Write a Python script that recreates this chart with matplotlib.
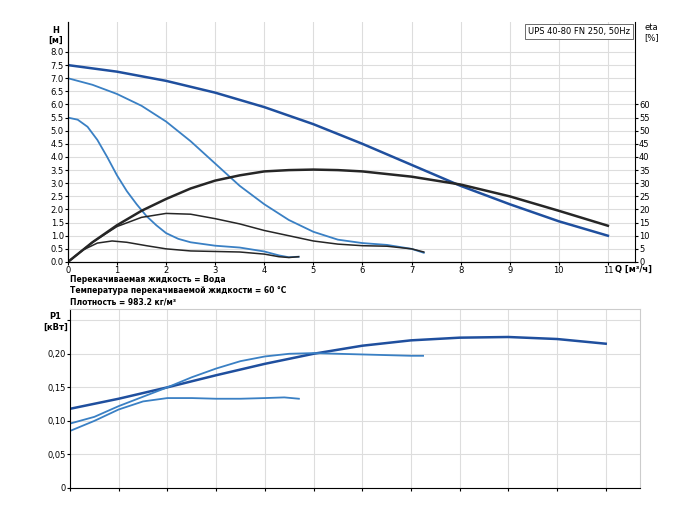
import matplotlib.pyplot as plt
import numpy as np

# head curves H [m]
q_h1 = [0, 1, 2, 3, 4, 5, 6, 7, 8, 9, 10, 11]
h1 = [7.5, 7.25, 6.9, 6.45, 5.9, 5.25, 4.5, 3.7, 2.9, 2.2, 1.55, 1.0]
q_h2 = [0, 0.5, 1, 1.5, 2, 2.5, 3, 3.5, 4, 4.5, 5, 5.5, 6, 6.5, 7, 7.25]
h2 = [7.0, 6.75, 6.4, 5.95, 5.35, 4.6, 3.75, 2.9, 2.2, 1.6, 1.15, 0.85, 0.72, 0.65, 0.5, 0.35]
q_h3 = [0, 0.2, 0.4, 0.6, 0.8, 1, 1.2, 1.4, 1.6, 1.8, 2, 2.25, 2.5, 3, 3.5, 4, 4.3, 4.5, 4.7]
h3 = [5.5, 5.42, 5.15, 4.65, 4.0, 3.3, 2.7, 2.2, 1.75, 1.4, 1.1, 0.88, 0.75, 0.62, 0.55, 0.4, 0.25, 0.18, 0.2]

# efficiency curves eta [%]
q_e1 = [0, 0.5, 1, 1.5, 2, 2.5, 3, 3.5, 4, 4.5, 5, 5.5, 6, 7, 8, 9, 10, 11]
e1 = [0, 7.5, 14, 19.5, 24, 28, 31, 33, 34.5, 35.0, 35.2, 35.0, 34.5, 32.5, 29.5, 25, 19.5, 13.8]
q_e2 = [0, 0.5, 1, 1.5, 2, 2.5, 3, 3.5, 4, 4.5, 5, 5.5, 6, 6.5, 7, 7.25]
e2 = [0, 7.5, 13.5, 17, 18.5, 18.2, 16.5, 14.5, 12, 10, 8, 6.8, 6.2, 6.0, 5.0, 3.8]
q_e3 = [0, 0.3, 0.6, 0.9, 1.2, 1.6, 2, 2.5, 3, 3.5, 4, 4.3, 4.5, 4.7]
e3 = [0, 4.5, 7.2, 8.0, 7.5, 6.2, 5.0, 4.2, 4.0, 3.8, 3.0, 2.0, 1.7, 2.0]

# power curves P1 [kW]
q_p1 = [0, 1, 2, 3, 4, 5, 6, 7, 8, 9, 10, 11]
p1 = [0.118, 0.133, 0.15, 0.168, 0.185, 0.2, 0.212, 0.22, 0.224, 0.225, 0.222, 0.215]
q_p2 = [0, 0.5, 1, 1.5, 2, 2.5, 3, 3.5, 4, 4.5, 5, 5.5, 6, 6.5, 7, 7.25]
p2 = [0.096, 0.106, 0.122, 0.136, 0.15, 0.165, 0.178, 0.189, 0.196, 0.2, 0.201, 0.2, 0.199, 0.198, 0.197, 0.197]
q_p3 = [0, 0.5, 1, 1.5, 2, 2.5, 3, 3.5, 4, 4.4, 4.7]
p3 = [0.085, 0.1, 0.117, 0.129, 0.134, 0.134, 0.133, 0.133, 0.134, 0.135, 0.133]

dark = "#1f4f9e"
light = "#3a80c4"
black = "#262626"

fig = plt.figure(figsize=(7, 5.25), dpi=100, facecolor="white")
ax = fig.add_axes([0.097, 0.501, 0.81, 0.457])
ax.plot(q_h1, h1, color=dark, lw=1.8)
ax.plot(q_h2, h2, color=light, lw=1.3)
ax.plot(q_h3, h3, color=light, lw=1.3)
ax.set_xlim(0, 11.55)
ax.set_ylim(0, 9.14)
ax.set_xticks(range(0, 12))
ax.set_yticks(np.arange(0, 8.01, 0.5))
ax.set_yticklabels([f"{v:.1f}" for v in np.arange(0, 8.01, 0.5)])
ax.grid(color="#dddddd", lw=0.8)
ax.tick_params(labelsize=6, length=2, pad=1)
for s in ["top", "right"]:
    ax.spines[s].set_visible(False)
ax.text(-0.25, 9.0, "H\n[м]", fontsize=6, ha="center", va="top", fontweight="bold")
ax.text(11.15, -0.28, "Q [м³/ч]", fontsize=6, ha="left", va="center", fontweight="bold")
ax.text(11.45, 8.95, "UPS 40-80 FN 250, 50Hz", fontsize=6, ha="right", va="top",
        bbox=dict(facecolor="white", edgecolor="#555555", lw=0.6, pad=2))

ax2 = ax.twinx()
ax2.plot(q_e1, e1, color=black, lw=1.8)
ax2.plot(q_e2, e2, color=black, lw=1.1)
ax2.plot(q_e3, e3, color=black, lw=1.1)
ax2.set_ylim(0, 91.4)
ax2.set_yticks(range(0, 61, 5))
ax2.tick_params(labelsize=6, length=2, pad=1)
ax2.spines["top"].set_visible(False)
ax2.text(11.75, 91, "eta\n[%]", fontsize=6, ha="left", va="top")

fig.text(0.1, 0.462, "Перекачиваемая жидкость = Вода", fontsize=5.5, fontweight="bold")
fig.text(0.1, 0.441, "Температура перекачиваемой жидкости = 60 °C", fontsize=5.5, fontweight="bold")
fig.text(0.1, 0.42, "Плотность = 983.2 кг/м³", fontsize=5.5, fontweight="bold")

bx = fig.add_axes([0.1, 0.0705, 0.814, 0.34])
bx.plot(q_p1, p1, color=dark, lw=1.8)
bx.plot(q_p2, p2, color=light, lw=1.3)
bx.plot(q_p3, p3, color=light, lw=1.3)
bx.set_xlim(0, 11.7)
bx.set_ylim(0, 0.266)
bx.set_xticks(range(0, 12))
bx.set_xticklabels([])
bx.set_yticks([0, 0.05, 0.1, 0.15, 0.2, 0.25])
bx.set_yticklabels(["0", "0,05", "0,10", "0,15", "0,20", ""])
bx.grid(color="#dddddd", lw=0.8)
bx.tick_params(labelsize=6, length=2, pad=1)
for s in ["top", "right"]:
    bx.spines[s].set_color("#cccccc")
bx.text(-0.3, 0.262, "P1\n[кВт]", fontsize=6, ha="center", va="top", fontweight="bold")

plt.savefig("out.png", dpi=100)
